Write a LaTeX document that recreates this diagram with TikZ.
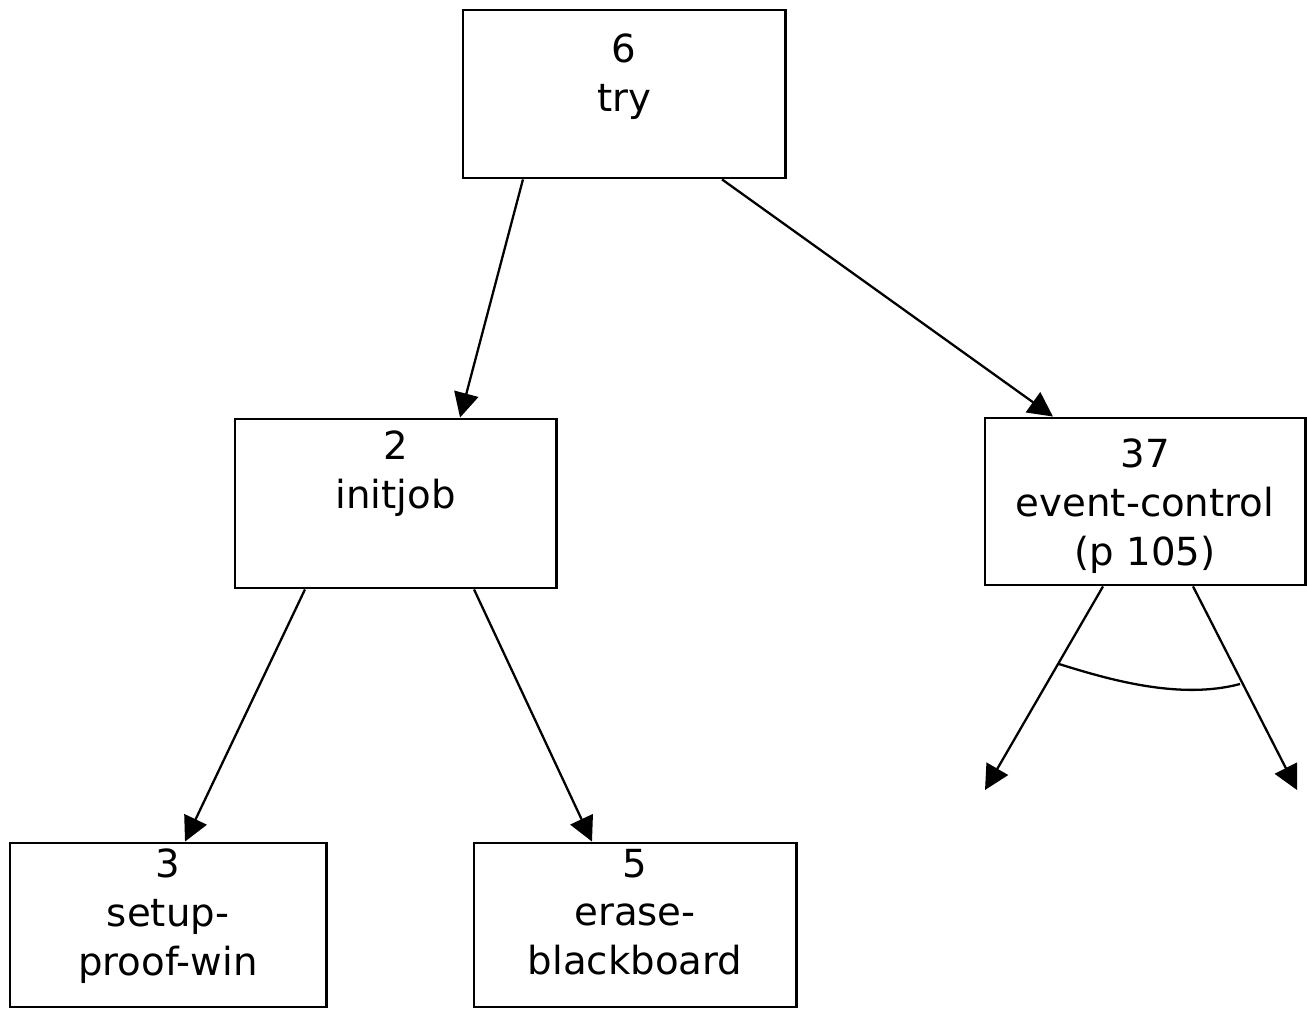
\documentclass[tikz,border=0pt]{standalone}
\usepackage{fontspec}
\setmainfont{DejaVu Sans}
\usetikzlibrary{arrows.meta}
\begin{document}
\begin{tikzpicture}[x=0.01cm,y=-0.01cm,
  box/.style={draw,line width=0.8pt,inner sep=0pt},
  lbl/.style={anchor=north,align=center,inner sep=0pt,
    font=\fontsize{11}{13.8}\selectfont},
  arr/.style={line width=0.65pt,-{Triangle[length=7pt,width=7pt]}}]
\useasboundingbox (0,0) rectangle (1307,1010);
% call boxes
\node[box,minimum width=3.22cm,minimum height=1.68cm] (try) at (624,94) {};
\node[box,minimum width=3.21cm,minimum height=1.69cm] (initjob) at (395.5,503.5) {};
\node[box,minimum width=3.20cm,minimum height=1.67cm] (event) at (1145,501.5) {};
\node[box,minimum width=3.16cm,minimum height=1.64cm] (setup) at (168,925) {};
\node[box,minimum width=3.22cm,minimum height=1.64cm] (erase) at (635,925) {};
% box texts
\node[lbl] (tryt) at ([yshift=-0.25cm]try.north) {6\\try};
\node[lbl] (initjobt) at ([yshift=-0.13cm]initjob.north) {2\\initjob};
\node[lbl] (eventt) at ([yshift=-0.22cm]event.north) {37\\event-control\\(p 105)};
\node[lbl] (setupt) at ([yshift=-0.07cm]setup.north) {3\\setup-\\proof-win};
\node[lbl] (eraset) at ([yshift=-0.07cm]erase.north) {5\\erase-\\blackboard};
% calls
\draw[arr] ([xshift=-1.01cm]try.south) -- ([xshift=0.645cm]initjob.north);
\draw[arr] ([xshift=0.98cm]try.south) -- ([xshift=-0.92cm]event.north);
\draw[arr] ([xshift=-0.905cm]initjob.south) -- ([xshift=0.17cm]setup.north);
\draw[arr] ([xshift=0.785cm]initjob.south) -- ([xshift=-0.43cm]erase.north);
% open calls of event-control, tied by an arc
\coordinate (l) at (985,790);
\coordinate (r) at (1297,790);
\draw[arr] ([xshift=-0.42cm]event.south) -- (l);
\draw[arr] ([xshift=0.48cm]event.south) -- (r);
\draw[line width=0.65pt] (1059,664) .. controls (1110,680) and (1180,700) .. (1240,684);
\end{tikzpicture}
\end{document}
